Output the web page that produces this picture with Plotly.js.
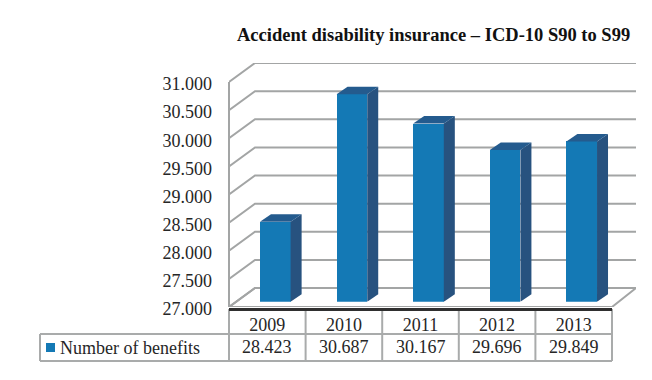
<!DOCTYPE html>
<html>
<head>
<meta charset="utf-8">
<script src="https://cdn.plot.ly/plotly-3.0.1.min.js"></script>
<style>html,body{margin:0;padding:0;background:#fff}#chart{width:652px;height:380px}</style>
</head>
<body>
<div id="chart"></div>
<script>
// Benefits per year, shown as pseudo-3D columns with a data table underneath.
const years = ['2009', '2010', '2011', '2012', '2013'];
const benefits = [28423, 30687, 30167, 29696, 29849];
const seriesName = 'Number of benefits';
const chartTitle = 'Accident disability insurance – ICD-10 S90 to S99';
const axisTicks = [27000, 27500, 28000, 28500, 29000, 29500, 30000, 30500, 31000];
const axisLabels = ['27.000', '27.500', '28.000', '28.500', '29.000', '29.500', '30.000', '30.500', '31.000'];

const W = 652, H = 380;
const plotL = 229, plotR = 636, plotT = 63, plotB = 307;
const catPx = 76.6;                 // width of one year column
const unitPx = 225 / 4000;          // pixels per benefit
const px = v => v / catPx;
const py = v => v / unitPx;
const yMin = 27000;
const xMin = -0.5, xFront = 4.5, xMax = xMin + (plotR - plotL) / catPx;
const yMax = yMin + (plotB - plotT) / unitPx;

// Receding floor and wall depth
const wallDx = px(26), wallDy = py(19);
// Column placement and depth
const barLift = 5.3, barShift = 8;
const barW = 0.4, hw = barW / 2, depthDx = px(11), depthDy = py(7.5);

const fmt = v => { const s = String(v); return s.slice(0, -3) + '.' + s.slice(-3); };
const paperY = Y => (plotB - Y) / (plotB - plotT);
const paperX = X => (X - plotL) / (plotR - plotL);

const GRID = '#a3a5a5', TABLE = '#a9abab', INK = '#262626';
const FONT = 'Liberation Serif, Times New Roman, serif';

// Gridlines: up the side wall, then along the back wall
const gridX = [], gridY = [];
axisTicks.forEach(t => {
  gridX.push(xMin, xMin + wallDx, xMax, null);
  gridY.push(t, t + wallDy, t + wallDy, null);
});
const gridTrace = {
  type: 'scatter', mode: 'lines', x: gridX, y: gridY,
  line: { color: GRID, width: 2 }, hoverinfo: 'skip', showlegend: false, cliponaxis: false
};
const floorTrace = {
  type: 'scatter', mode: 'lines',
  x: [xMin, xMin + wallDx, xMax, xFront, xMin],
  y: [yMin, yMin + wallDy, yMin + wallDy, yMin, yMin],
  line: { color: GRID, width: 2 }, hoverinfo: 'skip', showlegend: false, cliponaxis: false
};

// Column faces share a second pair of axes nudged in from the front plane
const barTrace = {
  type: 'bar', name: seriesName, x: years.map((_, i) => i), y: benefits, width: barW,
  xaxis: 'x2', yaxis: 'y2',
  marker: { color: '#1479b5', line: { width: 0 } },
  hovertemplate: '%{y}<extra></extra>'
};
const sideTraces = benefits.map((v, i) => ({
  type: 'scatter', mode: 'lines', fill: 'toself', xaxis: 'x2', yaxis: 'y2',
  x: [i + hw, i + hw + depthDx, i + hw + depthDx, i + hw, i + hw],
  y: [yMin, yMin + depthDy, v + depthDy, v, yMin],
  fillcolor: '#27527f', line: { width: 0, color: '#27527f' },
  hoverinfo: 'skip', showlegend: false, cliponaxis: false
}));
const topTraces = benefits.map((v, i) => ({
  type: 'scatter', mode: 'lines', fill: 'toself', xaxis: 'x2', yaxis: 'y2',
  x: [i - hw, i + hw, i + hw + depthDx, i - hw + depthDx, i - hw],
  y: [v, v, v + depthDy, v + depthDy, v],
  fillcolor: '#245b8e', line: { width: 0, color: '#245b8e' },
  hoverinfo: 'skip', showlegend: false, cliponaxis: false
}));

// Data table under the plot
const rowMid = 334, rowEnd = 361, tableLeft = 40;
const tableLine = (x0, y0, x1, y1, color, width) => ({
  type: 'line', xref: 'paper', yref: 'paper',
  x0: paperX(x0), x1: paperX(x1), y0: paperY(y0), y1: paperY(y1),
  line: { color: color || TABLE, width: width || 2 }
});
const colEdges = [0, 1, 2, 3, 4, 5].map(i => plotL + i * catPx);
const shapes = [
  tableLine(tableLeft, rowMid, colEdges[5], rowMid),
  tableLine(tableLeft, rowEnd, colEdges[5], rowEnd),
  tableLine(tableLeft, rowMid, tableLeft, rowEnd),
  ...colEdges.map(x => tableLine(x, 309, x, rowEnd)),
  tableLine(plotL, 309.5, colEdges[5], 309.5, '#2f2f2f', 3),
  {
    type: 'rect', xref: 'paper', yref: 'paper', line: { width: 0 }, fillcolor: '#1479b5',
    x0: paperX(46), x1: paperX(55), y0: paperY(352), y1: paperY(343)
  }
];
const annotations = [
  {
    text: '<b>' + chartTitle + '</b>', xref: 'paper', yref: 'paper',
    x: paperX(433.5), y: paperY(35), xanchor: 'center', yanchor: 'middle', showarrow: false,
    font: { family: FONT, size: 18.5, color: '#111' }
  },
  {
    text: seriesName, xref: 'paper', yref: 'paper', xanchor: 'left', yanchor: 'middle',
    x: paperX(58), y: paperY(347.5), showarrow: false,
    font: { family: FONT, size: 18, color: INK }
  },
  ...benefits.map((v, i) => ({
    text: fmt(v), xref: 'x', yref: 'paper', x: i, y: paperY(346.5), showarrow: false,
    xanchor: 'center', yanchor: 'middle',
    font: { family: FONT, size: 18, color: INK }
  }))
];

const layout = {
  width: W, height: H,
  margin: { l: plotL, r: W - plotR, t: plotT, b: H - plotB, pad: 0 },
  paper_bgcolor: '#fff', plot_bgcolor: 'rgba(0,0,0,0)',
  showlegend: false, bargap: 0,
  font: { family: FONT, color: INK },
  xaxis: {
    range: [xMin, xMax], tickmode: 'array', tickvals: years.map((_, i) => i), ticktext: years,
    showgrid: false, zeroline: false, showline: false, ticks: '',
    ticklabelstandoff: 5, tickfont: { family: FONT, size: 18, color: INK }
  },
  yaxis: {
    range: [yMin, yMax], tickmode: 'array', tickvals: axisTicks, ticktext: axisLabels,
    showgrid: false, zeroline: false, showline: false, ticks: '',
    ticklabelstandoff: 16, ticklabelshift: 2, tickfont: { family: FONT, size: 18, color: INK }
  },
  xaxis2: {
    anchor: 'y2', domain: [0, 1], visible: false,
    range: [xMin - px(barShift), xMax - px(barShift)]
  },
  yaxis2: {
    anchor: 'x2', domain: [paperY(plotB - barLift), 1], visible: false,
    range: [yMin, yMin + (plotB - barLift - plotT) / unitPx]
  },
  shapes: [
    { type: 'line', xref: 'paper', yref: 'paper', x0: 0, x1: 0, y0: 0, y1: paperY(82),
      line: { color: GRID, width: 2 } },
    ...shapes
  ],
  annotations
};

Plotly.newPlot('chart', [gridTrace, floorTrace, barTrace, ...sideTraces, ...topTraces], layout,
  { displayModeBar: false, staticPlot: true });
</script>
</body>
</html>
